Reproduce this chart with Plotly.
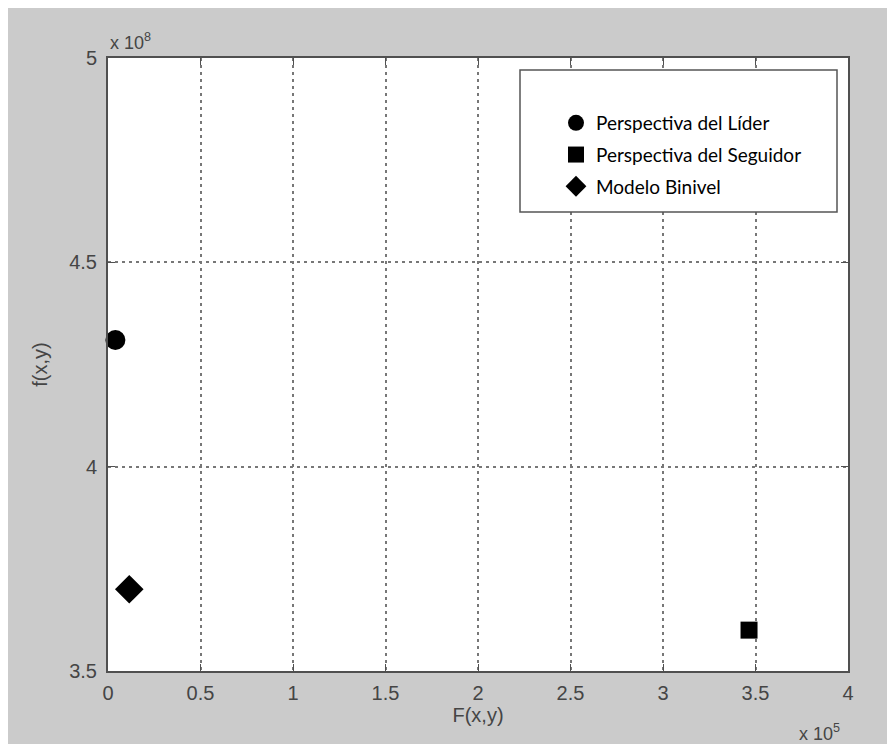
import plotly.graph_objects as go

# data (actual values)
series_names = ["Perspectiva del Líder", "Perspectiva del Seguidor", "Modelo Binivel"]
F_values = [4000, 346500, 11500]          # F(x,y)
f_values = [4.31e8, 3.60e8, 3.70e8]       # f(x,y)
symbols = ["circle", "square", "diamond"]
x_tickvals = [0, 50000, 100000, 150000, 200000, 250000, 300000, 350000, 400000]
x_ticktext = ["0", "0.5", "1", "1.5", "2", "2.5", "3", "3.5", "4"]
y_tickvals = [3.5e8, 4.0e8, 4.5e8, 5.0e8]
y_ticktext = ["3.5", "4", "4.5", "5"]

W, H = 887, 736
L, R, T, B = 100, 47, 50, 73
pw, ph = W - L - R, H - T - B

def px_x(px):
    return (px - L) / pw

def px_y(py):
    return (H - B - py) / ph

TXT = "#454545"
fig = go.Figure()
sizes = [20, 17, 22]
for i, (name, xv, yv, sym, sz) in enumerate(zip(series_names, F_values, f_values, symbols, sizes)):
    fig.add_trace(go.Scatter(
        x=[xv], y=[yv], mode="markers", name=name, legendgroup=f"g{i}",
        marker=dict(symbol=sym, size=sz, color="black"),
        cliponaxis=False,
    ))

axis_common = dict(
    showline=True, linecolor="#505050", linewidth=2, mirror="ticks",
    ticks="inside", ticklen=7, tickcolor="#505050",
    showgrid=True, gridcolor="#777777", gridwidth=1.5, griddash="3px,4px",
    zeroline=False,
    tickfont=dict(family="Liberation Sans, Arial", size=20, color=TXT),
)

fig.update_layout(
    width=W, height=H,
    margin=dict(l=L, r=R, t=T, b=B),
    paper_bgcolor="#cbcbcb", plot_bgcolor="white",
    showlegend=True,
    xaxis=dict(range=[0, 400000], tickvals=x_tickvals, ticktext=x_ticktext,
               ticklabelstandoff=3,
               title=dict(text="F(x,y)", standoff=4,
                          font=dict(family="Liberation Sans, Arial", size=20, color=TXT)),
               **axis_common),
    yaxis=dict(range=[3.5e8, 5.0e8], tickvals=y_tickvals, ticktext=y_ticktext,
               ticklabelstandoff=5,
               title=dict(text="f(x,y)", standoff=16,
                          font=dict(family="Liberation Sans, Arial", size=20, color=TXT)),
               **axis_common),
    legend=dict(
        x=px_x(548), y=px_y(96), xanchor="left", yanchor="top",
        bgcolor="rgba(0,0,0,0)", borderwidth=0,
        font=dict(family="Lato, Open Sans", size=19, color="black"),
        tracegroupgap=4,
    ),
    shapes=[
        dict(type="rect", xref="paper", yref="paper",
             x0=px_x(512), x1=px_x(829), y0=px_y(204), y1=px_y(62),
             fillcolor="white", line=dict(color="#555555", width=1.5), layer="above"),
    ],
    annotations=[
        dict(text="x 10<sup>8</sup>", xref="paper", yref="paper",
             x=px_x(100), y=px_y(34), xanchor="left", yanchor="middle", showarrow=False,
             font=dict(family="Liberation Sans, Arial", size=18, color=TXT)),
        dict(text="x 10<sup>5</sup>", xref="paper", yref="paper",
             x=px_x(834), y=px_y(724), xanchor="right", yanchor="middle", showarrow=False,
             font=dict(family="Liberation Sans, Arial", size=18, color=TXT)),
    ],
)

fig.write_html("out.html")
